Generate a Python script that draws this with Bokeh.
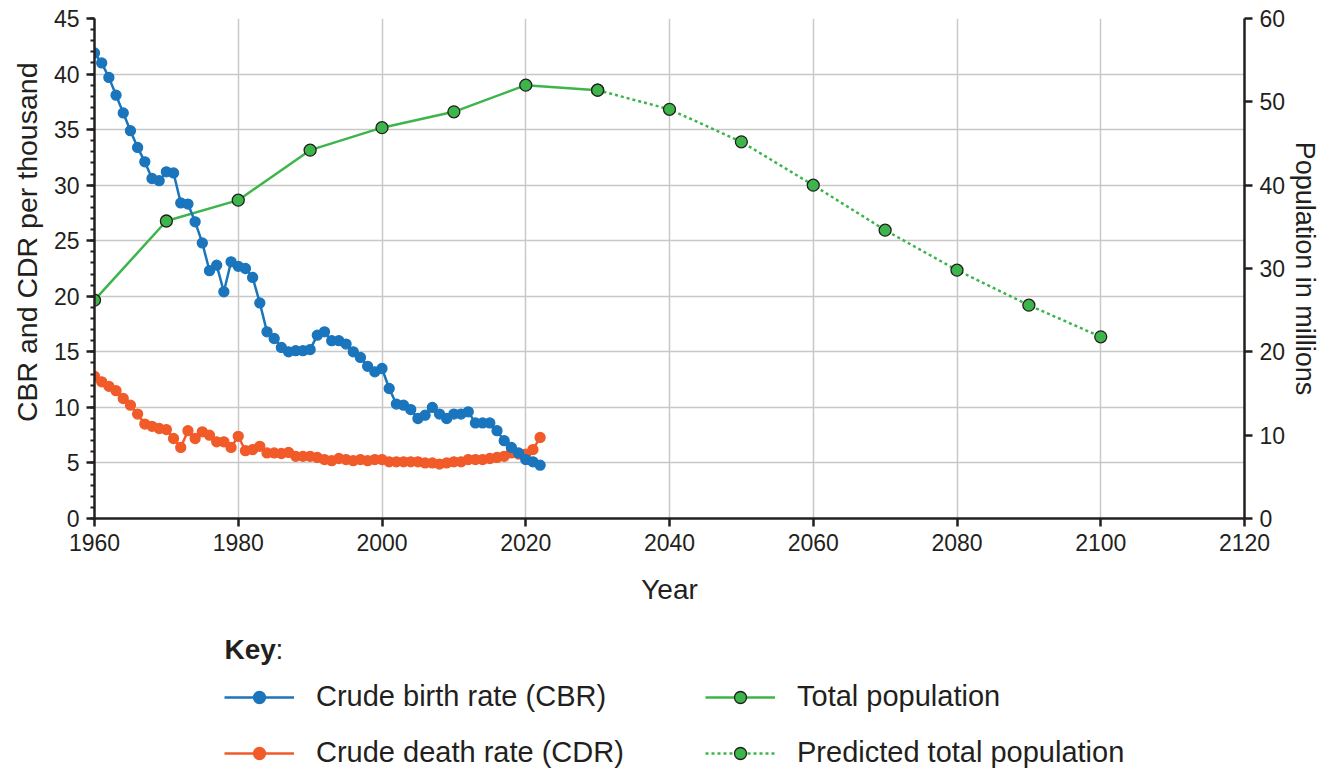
from bokeh.plotting import figure
from bokeh.layouts import column
from bokeh.models import Range1d, LinearAxis, SingleIntervalTicker, Legend, LegendItem, Label, Title
from bokeh.embed import file_html
from bokeh.resources import INLINE

# ---- data ----
rate_years = list(range(1960, 2023))
cbr = [41.9, 41.0, 39.7, 38.1, 36.5, 34.9, 33.4, 32.1, 30.6, 30.4,
       31.2, 31.1, 28.4, 28.3, 26.7, 24.8, 22.3, 22.8, 20.4, 23.1,
       22.7, 22.5, 21.7, 19.4, 16.8, 16.2, 15.4, 15.0, 15.1, 15.1,
       15.2, 16.5, 16.8, 16.0, 16.0, 15.7, 15.0, 14.5, 13.7, 13.2,
       13.5, 11.7, 10.3, 10.2, 9.8, 9.0, 9.3, 10.0, 9.4, 9.0,
       9.4, 9.4, 9.6, 8.6, 8.6, 8.6, 7.9, 7.0, 6.4, 5.9,
       5.3, 5.1, 4.8]
cdr = [12.8, 12.3, 11.9, 11.5, 10.8, 10.2, 9.4, 8.5, 8.3, 8.1,
       8.0, 7.2, 6.4, 7.9, 7.2, 7.8, 7.5, 6.9, 6.9, 6.4,
       7.4, 6.1, 6.2, 6.5, 5.9, 5.9, 5.85, 5.95, 5.6, 5.6,
       5.6, 5.5, 5.3, 5.2, 5.4, 5.3, 5.2, 5.3, 5.2, 5.3,
       5.3, 5.1, 5.1, 5.1, 5.1, 5.1, 5.0, 5.0, 4.9, 5.0,
       5.1, 5.1, 5.3, 5.3, 5.3, 5.4, 5.5, 5.6, 5.9, 5.8,
       5.8, 6.2, 7.3]
pop_years = [1960, 1970, 1980, 1990, 2000, 2010, 2020, 2030]
pop = [26.2, 35.7, 38.2, 44.2, 46.9, 48.8, 52.0, 51.4]
pred_years = [2030, 2040, 2050, 2060, 2070, 2080, 2090, 2100]
pred_pop = [51.4, 49.1, 45.2, 40.0, 34.6, 29.8, 25.6, 21.8]
legend_labels = ["Crude birth rate (CBR)", "Crude death rate (CDR)",
                 "Total population", "Predicted total population"]

BLUE = "#1a75bc"
ORANGE = "#f15a29"
GREEN = "#3cb54a"
DARK = "#231f20"
GRID = "#c8c8c8"
FONT = "Liberation Sans"

p = figure(frame_width=1150, frame_height=500,
           min_border_left=93, min_border_top=18, min_border_right=84, min_border_bottom=100,
           x_range=Range1d(1960, 2120), y_range=Range1d(0, 45),
           output_backend="svg", toolbar_location=None)
p.outline_line_color = None
p.background_fill_color = "white"
p.border_fill_color = "white"
p.extra_y_ranges = {"pop": Range1d(0, 60)}

xt = SingleIntervalTicker(interval=20, num_minor_ticks=0)
yt = SingleIntervalTicker(interval=5, num_minor_ticks=5)
p.xaxis.ticker = xt
p.yaxis.ticker = yt
p.xgrid.ticker = xt
p.ygrid.ticker = yt
for g in (p.xgrid, p.ygrid):
    g.grid_line_color = GRID
    g.grid_line_width = 1.5

left = p.left[0]
bottom = p.below[0]
bottom.axis_label = "Year"

right = LinearAxis(y_range_name="pop", ticker=SingleIntervalTicker(interval=10, num_minor_ticks=0),
                   axis_label="Population in millions")
p.add_layout(right, "right")

for ax in (bottom, left, right):
    ax.axis_line_color = DARK
    ax.axis_line_width = 2.5
    ax.major_tick_line_color = DARK
    ax.major_tick_line_width = 2.5
    ax.major_tick_out = 8
    ax.major_tick_in = 0
    ax.minor_tick_line_color = DARK
    ax.minor_tick_line_width = 2
    ax.minor_tick_out = 4
    ax.minor_tick_in = 0
    ax.major_label_text_font = FONT
    ax.major_label_text_font_size = "23px"
    ax.major_label_text_color = DARK
    ax.axis_label_text_font = FONT
    ax.axis_label_text_font_size = "28px"
    ax.axis_label_text_font_style = "normal"
    ax.axis_label_text_color = DARK
    ax.major_label_standoff = 7

bottom.axis_label_standoff = 20
right.axis_label_standoff = 2
right.axis_label_text_font_size = "27px"

# left axis title, placed higher along the axis like the reference
p.add_layout(Title(text="CBR and CDR per thousand", align="right", offset=44,
                   text_font=FONT, text_font_size="28.5px", text_font_style="normal",
                   text_color=DARK, standoff=16), "left")


def draw_series(fig, xs, ys, color, size, outline, dash="solid", rng="default"):
    ln = fig.line(xs, ys, y_range_name=rng, line_color=color, line_width=2.5, line_dash=dash)
    pt = fig.scatter(xs, ys, y_range_name=rng, size=size, fill_color=color,
                     line_color=outline, line_width=1.3)
    return ln, pt


# population (drawn first, underneath)
pop_r = draw_series(p, pop_years, pop, GREEN, 12, DARK, rng="pop")
pred_r = draw_series(p, pred_years, pred_pop, GREEN, 12, DARK, dash="3 3", rng="pop")
# rates
cdr_r = draw_series(p, rate_years, cdr, ORANGE, 10, ORANGE)
cbr_r = draw_series(p, rate_years, cbr, BLUE, 10, BLUE)

# ---- key (separate strip below the chart; its ranges hide the data, only the legend shows) ----
k = figure(width=1328, height=152, x_range=Range1d(0, 1), y_range=Range1d(0, 1),
           min_border=0, x_axis_location=None, y_axis_location=None,
           output_backend="svg", toolbar_location=None)
k.outline_line_color = None
k.xgrid.visible = False
k.ygrid.visible = False

k_cbr = draw_series(k, rate_years, cbr, BLUE, 10, BLUE)
k_cdr = draw_series(k, rate_years, cdr, ORANGE, 10, ORANGE)
k_pop = draw_series(k, pop_years, pop, GREEN, 12, DARK)
k_pred = draw_series(k, pred_years, pred_pop, GREEN, 12, DARK, dash="3 3")

legend = Legend(items=[
    LegendItem(label=legend_labels[0], renderers=list(k_cbr), index=0),
    LegendItem(label=legend_labels[1], renderers=list(k_cdr), index=0),
    LegendItem(label=legend_labels[2], renderers=list(k_pop), index=0),
    LegendItem(label=legend_labels[3], renderers=list(k_pred), index=0),
], orientation="vertical", ncols=2, location=(130, 1))
legend.label_text_font = FONT
legend.label_text_font_size = "29px"
legend.label_text_color = DARK
legend.label_standoff = 22
legend.glyph_width = 70
legend.glyph_height = 30
legend.label_height = 30
legend.label_width = 366
legend.spacing = 23
legend.padding = 0
legend.margin = 0
legend.border_line_color = None
legend.background_fill_alpha = 0
k.add_layout(legend, "center")

k.add_layout(Label(x=130, y=121, x_units="screen", y_units="screen", text="Key",
                   text_font=FONT, text_font_size="28px", text_font_style="bold",
                   text_color=DARK, text_baseline="middle"))
k.add_layout(Label(x=181, y=121, x_units="screen", y_units="screen", text=":",
                   text_font=FONT, text_font_size="28px",
                   text_color=DARK, text_baseline="middle"))

open("out.html", "w").write(file_html(column(p, k, spacing=0), INLINE))
